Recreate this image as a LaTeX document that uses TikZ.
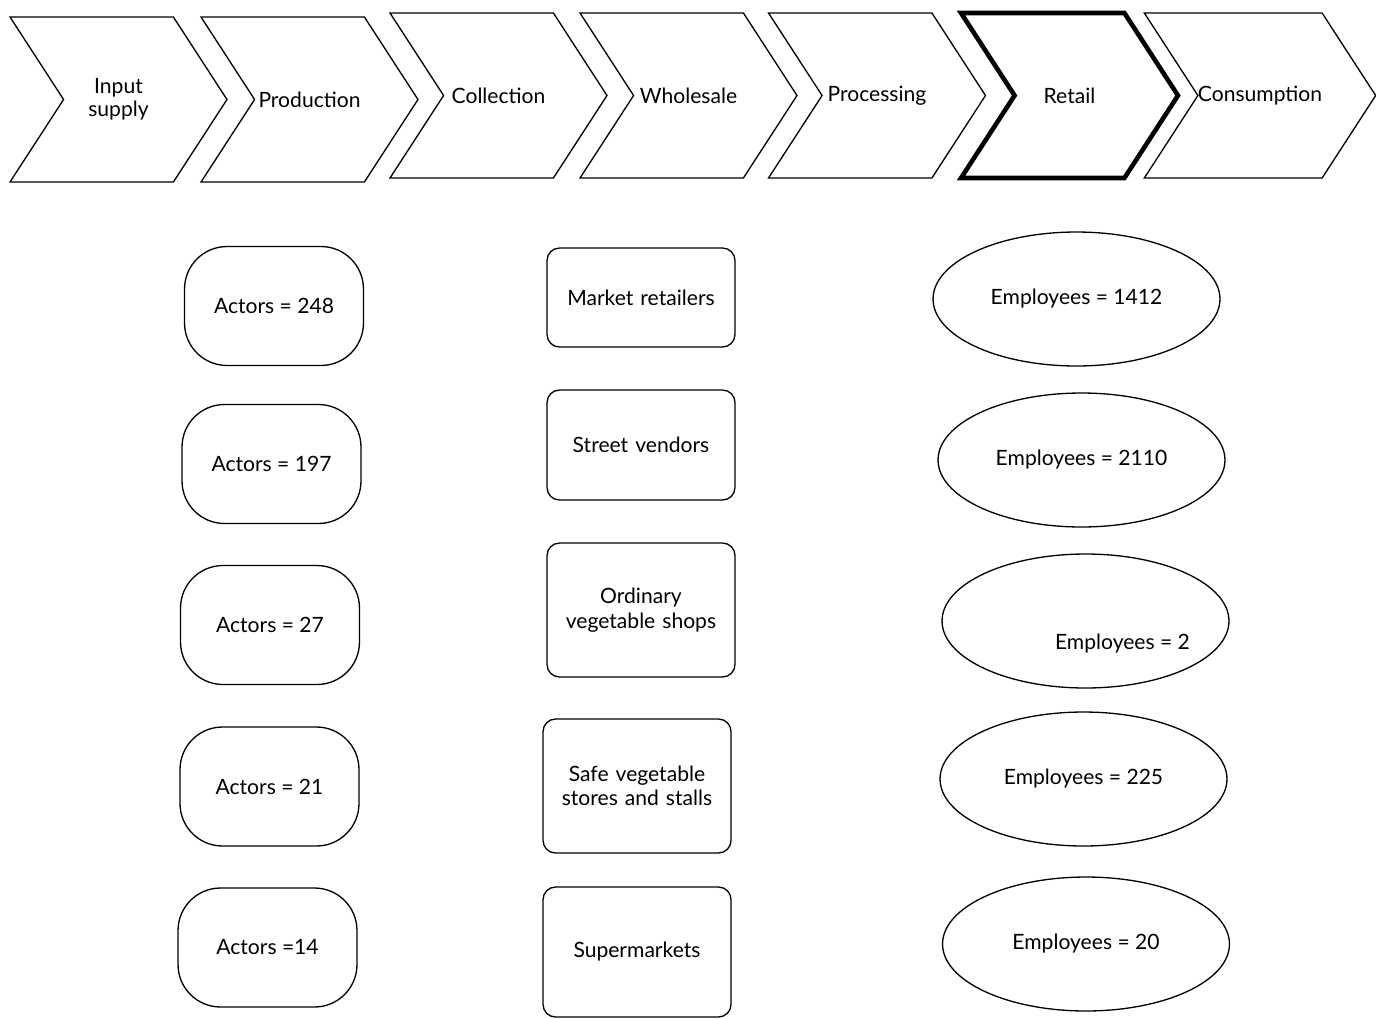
\documentclass[tikz,border=0pt]{standalone}
\usepackage{fontspec}
\setmainfont{Lato}
\usetikzlibrary{shapes.symbols,shapes.geometric,positioning}

\begin{document}
\begin{tikzpicture}[x=0.02cm,y=-0.02cm,
  etapa/.style={draw,line width=0.75pt,signal,signal from=west,signal to=east,
    signal pointer angle=114,minimum width=4.34cm,minimum height=3.3cm,inner sep=0pt,
    align=center,font=\large},
  actor/.style={draw,line width=0.75pt,rounded corners=0.85cm,minimum width=3.58cm,
    minimum height=2.38cm,font=\large},
  tienda/.style={draw,line width=0.75pt,rounded corners=0.25cm,minimum width=3.76cm,
    text width=3.4cm,align=center,font=\large},
  empleo/.style={draw,line width=0.75pt,ellipse,minimum width=5.74cm,
    minimum height=2.68cm,font=\large}
  ]
  \useasboundingbox (0,0) rectangle (1376,1018);

  % value chain
  \node[etapa] (input) at (118.5,99.5) {Input\\[-1pt]supply};
  \node[etapa] (prod) at (309.5,99.5) {Production};
  \node[etapa] (coll) at (498.5,95.5) {Collection};
  \node[etapa] (whole) at (688.5,95.5) {Wholesale};
  \node[etapa] (proc) at (877,95.5) {Processing};
  \node[etapa,line width=2.6pt] (retail) at (1069.5,95.5) {Retail};
  \node[etapa] (cons) at (1260,95.5) {Consumption};

  % actors
  \node[actor] (act1) at (274,306) {Actors = 248};
  \node[actor] (act2) at (271.5,464) {Actors = 197};
  \node[actor] (act3) at (270,625) {Actors = 27};
  \node[actor] (act4) at (269.5,786.5) {Actors = 21};
  \node[actor] (act5) at (267.5,947.5) {Actors =14};

  % retail types
  \node[tienda,minimum height=1.98cm] (market) at (641,297.5) {Market retailers};
  \node[tienda,minimum height=2.2cm] (street) at (641,445) {Street vendors};
  \node[tienda,minimum height=2.68cm] (ordin) at (641,610) {Ordinary\\vegetable shops};
  \node[tienda,minimum height=2.68cm] (safe) at (637,786) {Safe vegetable\\stores and stalls};
  \node[tienda,minimum height=2.6cm] (super) at (637,952) {Supermarkets};

  % employees
  \node[empleo] (emp1) at (1076.5,299) {Employees = 1412};
  \node[empleo] (emp2) at (1081.5,460) {Employees = 2110};
  \node[empleo,label={[xshift=0.74cm,yshift=-0.46cm,font=\large]center:Employees = 2}] (emp3) at (1085.5,621) {};
  \node[empleo] (emp4) at (1083.5,779) {Employees = 225};
  \node[empleo] (emp5) at (1086,944) {Employees = 20};

\end{tikzpicture}
\end{document}
